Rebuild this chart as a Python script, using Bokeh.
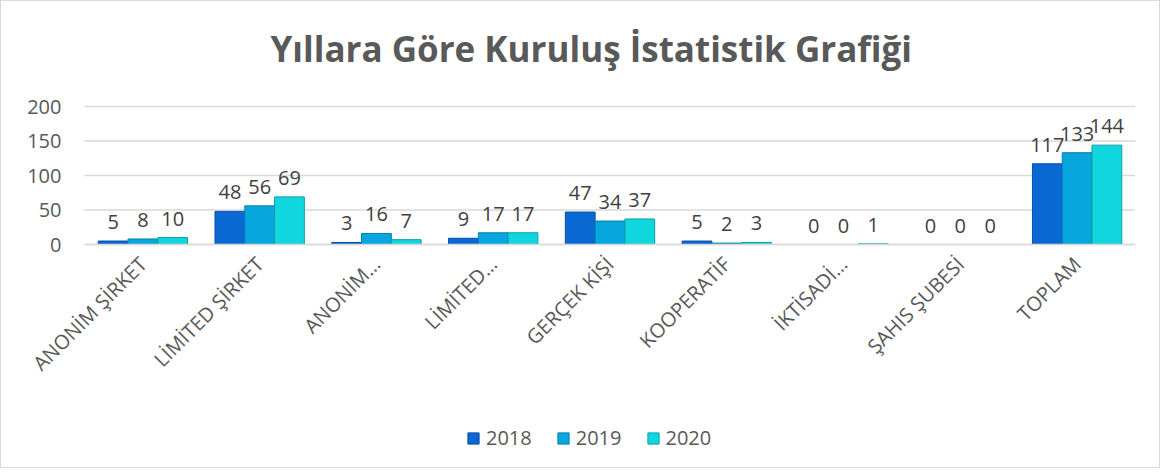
import math
from bokeh.plotting import figure
from bokeh.models import ColumnDataSource, Range1d, FixedTicker, Legend, LegendItem, Title
from bokeh.transform import dodge
from bokeh.core.properties import value
from bokeh.embed import file_html
from bokeh.resources import INLINE

categories = ["ANONİM ŞİRKET", "LİMİTED ŞİRKET", "ANONİM…", "LİMİTED…", "GERÇEK KİŞİ",
              "KOOPERATİF", "İKTİSADİ…", "ŞAHIS ŞUBESİ", "TOPLAM"]
years = ["2018", "2019", "2020"]
v2018 = [5, 48, 3, 9, 47, 5, 0, 0, 117]
v2019 = [8, 56, 16, 17, 34, 2, 0, 0, 133]
v2020 = [10, 69, 7, 17, 37, 3, 1, 0, 144]
y_ticks = [0, 50, 100, 150, 200]

fills = ["#0A68D2", "#08A6DE", "#10D6DE"]
edges = ["#0650A0", "#067FAE", "#0A9EA6"]
TXT = "#595959"
FONT = "Open Sans"

n = len(categories)
xi = list(range(n))
src = ColumnDataSource(dict(xi=xi, y2018=v2018, y2019=v2019, y2020=v2020,
                            l2018=[str(v) for v in v2018], l2019=[str(v) for v in v2019],
                            l2020=[str(v) for v in v2020]))

# layout: plot area 1051x138 px for 9 categories and 0..200; the frame is
# extended left, up and down so that tick labels and legend sit inside it
CAT_PX = 1051 / n
LEFT_PX = 83
TOP_PX = 14
FRAME_W = 1051 + LEFT_PX
FRAME_H = 361 + TOP_PX
PX_PER_UNIT = 138 / 200
x_lo = -0.5 - LEFT_PX / CAT_PX
x_hi = n - 0.5
y_hi = 200 + TOP_PX / PX_PER_UNIT
y_lo = y_hi - FRAME_H / PX_PER_UNIT

p = figure(x_range=Range1d(x_lo, x_hi), y_range=Range1d(y_lo, y_hi),
           frame_width=FRAME_W, frame_height=FRAME_H, output_backend="svg", toolbar_location=None,
           min_border_left=0, min_border_right=24, min_border_top=0, min_border_bottom=0,
           styles={"border": "1px solid #d9d9d9"})

p.title = Title(text="Yıllara Göre Kuruluş İstatistik Grafiği", align="left",
                text_font=FONT, text_font_size="35px", text_font_style="bold",
                text_color=TXT, standoff=42, offset=186 + LEFT_PX)

# horizontal gridlines at the value ticks, across the category span only
grid_src = ColumnDataSource(dict(y=y_ticks, x0=[-0.5] * len(y_ticks), x1=[n - 0.5] * len(y_ticks)))
p.segment(x0="x0", x1="x1", y0="y", y1="y", source=grid_src,
          line_color="#d9d9d9", line_width=1.5, level="underlay")

bw = 0.255
offs = [-bw, 0.0, bw]
renderers = []
for i, y in enumerate(years):
    r = p.vbar(x=dodge("xi", offs[i]), top="y" + y, bottom=0, width=bw,
               source=src, fill_color=fills[i], line_color=edges[i], line_width=1)
    renderers.append(r)
    p.text(x=dodge("xi", offs[i]), y="y" + y, text="l" + y, source=src,
           text_font=value(FONT), text_font_size="20px", text_color="#404040",
           text_align="center", text_baseline="bottom", y_offset=-12)

p.xgrid.visible = False
p.ygrid.visible = False

p.yaxis.fixed_location = -0.5
p.yaxis.bounds = (0, 200)
p.yaxis.ticker = FixedTicker(ticks=y_ticks)
p.yaxis.axis_line_color = None
p.yaxis.major_tick_line_color = None
p.yaxis.minor_tick_line_color = None
p.yaxis.major_tick_out = 0
p.yaxis.major_label_text_font = FONT
p.yaxis.major_label_text_font_size = "20px"
p.yaxis.major_label_text_color = TXT
p.yaxis.major_label_standoff = 23

p.xaxis.fixed_location = 0
p.xaxis.bounds = (-0.5, n - 0.5)
p.xaxis.ticker = FixedTicker(ticks=xi)
p.xaxis.major_label_overrides = {i: c for i, c in enumerate(categories)}
p.xaxis.axis_line_color = "#d9d9d9"
p.xaxis.axis_line_width = 1.5
p.xaxis.major_tick_line_color = None
p.xaxis.minor_tick_line_color = None
p.xaxis.major_tick_out = 0
p.xaxis.major_label_orientation = math.pi / 4
p.xaxis.major_label_text_font = FONT
p.xaxis.major_label_text_font_size = "20px"
p.xaxis.major_label_text_color = TXT
p.xaxis.major_label_standoff = 16

p.outline_line_color = None

legend = Legend(items=[LegendItem(label=y, renderers=[r]) for y, r in zip(years, renderers)],
                orientation="horizontal", location=(465, 16),
                label_text_font=FONT, label_text_font_size="20px", label_text_color=TXT,
                glyph_width=14, glyph_height=14, spacing=24, label_standoff=6,
                background_fill_alpha=0, border_line_color=None, padding=4, margin=0)
p.add_layout(legend, "center")

open("out.html", "w").write(file_html(p, INLINE))
